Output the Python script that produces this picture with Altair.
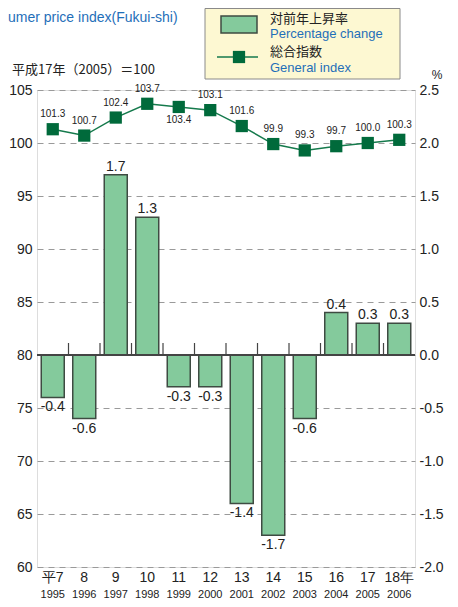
import altair as alt
import pandas as pd

years = ["1995", "1996", "1997", "1998", "1999", "2000", "2001", "2002", "2003", "2004", "2005", "2006"]
era_labels = ["平7", "8", "9", "10", "11", "12", "13", "14", "15", "16", "17", "18年"]
pct_change = [-0.4, -0.6, 1.7, 1.3, -0.3, -0.3, -1.4, -1.7, -0.6, 0.4, 0.3, 0.3]
general_index = [101.3, 100.7, 102.4, 103.7, 103.4, 103.1, 101.6, 99.9, 99.3, 99.7, 100.0, 100.3]
right_ticks = [-2.0, -1.5, -1.0, -0.5, 0.0, 0.5, 1.0, 1.5, 2.0, 2.5]

df = pd.DataFrame({"year": years, "era": era_labels, "pct": pct_change, "idx": general_index})

W, H = 378, 477
SANS = "Liberation Sans"
CJK = "Noto Sans CJK JP"
BLUE = "#1f6fb9"
BAR_FILL = "#84ca9c"
BAR_STROKE = "#3e4b42"
LINE = "#157a4c"
MARK = "#006a3b"

xenc = alt.X("year:N", axis=None, scale=alt.Scale(paddingInner=0.27, paddingOuter=0.135))
yscale = alt.Scale(domain=[-2.0, 2.5], nice=False, zero=False)

right_axis = alt.Axis(orient="right", values=right_ticks, title=None,
                      labelExpr="(datum.value < 0 ? '-' : '') + format(abs(datum.value), '.1f')",
                      ticks=False, domain=False, grid=False, labelFontSize=14,
                      labelFont=SANS, labelColor="#222", labelPadding=4)
left_axis = alt.Axis(orient="left", values=right_ticks, title=None, ticks=False, domain=False,
                     labelExpr="format(datum.value * 10 + 80, 'd')",
                     grid=True, gridDash=[6, 5], gridColor="#9a9a9a", gridWidth=1,
                     labelFontSize=14, labelFont=SANS, labelColor="#222", labelPadding=5)

base = alt.Chart(df).transform_calculate(
    iy="(datum.idx - 80) / 10",
    plab="(datum.pct < 0 ? '-' : '') + format(abs(datum.pct), '.1f')",
)

bars = base.mark_bar(fill=BAR_FILL, stroke=BAR_STROKE, strokeWidth=1.5).encode(
    x=xenc, y=alt.Y("pct:Q", scale=yscale, axis=right_axis), y2=alt.datum(0))
pos_lab = base.transform_filter("datum.pct > 0").mark_text(
    baseline="bottom", dy=-1, fontSize=14, font=SANS, color="#222").encode(
    x=xenc, y=alt.Y("pct:Q", scale=yscale, axis=None), text="plab:N")
neg_lab = base.transform_filter("datum.pct < 0").mark_text(
    baseline="top", dy=3, fontSize=14, font=SANS, color="#222").encode(
    x=xenc, y=alt.Y("pct:Q", scale=yscale, axis=None), text="plab:N")
baseline_rule = base.mark_rule(color="#444", strokeWidth=1.5).encode(
    x=alt.value(0), x2=alt.value(W), y=alt.datum(0, scale=yscale, axis=None))
seps = base.transform_filter("datum.year != '1995'").mark_rule(
    color="#444", strokeWidth=1.2, xOffset=-4.25).encode(
    x=alt.X("year:N", bandPosition=0, axis=None, scale=alt.Scale(paddingInner=0.27, paddingOuter=0.135)),
    y=alt.value(253), y2=alt.value(264))
era_text = base.mark_text(fontSize=14, font=SANS, color="#222", baseline="middle").encode(
    x=xenc, y=alt.value(H + 11), text="era:N")
year_text = base.mark_text(fontSize=11, font=SANS, color="#222", baseline="middle").encode(
    x=xenc, y=alt.value(H + 28), text="year:N")

line = base.mark_line(color=LINE, strokeWidth=1.5).encode(
    x=xenc, y=alt.Y("iy:Q", scale=yscale, axis=left_axis))
pts = base.mark_point(shape="square", size=150, filled=True, color=MARK, opacity=1).encode(
    x=xenc, y=alt.Y("iy:Q", scale=yscale, axis=None))
ilab_up = base.transform_filter("datum.year != '1999'").mark_text(
    dy=-15, fontSize=10, font=SANS, color="#222").encode(
    x=xenc, y=alt.Y("iy:Q", scale=yscale, axis=None), text=alt.Text("idx:Q", format=".1f"))
ilab_dn = base.transform_filter("datum.year == '1999'").mark_text(
    dy=13, fontSize=10, font=SANS, color="#222").encode(
    x=xenc, y=alt.Y("iy:Q", scale=yscale, axis=None), text=alt.Text("idx:Q", format=".1f"))

one = pd.DataFrame({"a": [0]})
def txt(s, x, y, size=13, color="#222", font=SANS, align="left"):
    return alt.Chart(one).mark_text(text=s, fontSize=size, color=color, font=font,
                                    align=align, baseline="middle").encode(
        x=alt.value(x), y=alt.value(y))

title = txt("umer price index(Fukui-shi)", -29, -72, size=14, color=BLUE)
base_note = txt("平成17年（2005）＝100", -25, -20, size=13, font=CJK)
pct_sign = txt("%", 400, -15, size=12, align="center")

leg_box = alt.Chart(one).mark_rect(fill="#fdf8d2", stroke="#8a8a8a", strokeWidth=1).encode(
    x=alt.value(168), x2=alt.value(363), y=alt.value(-81.5), y2=alt.value(-11))
leg_bar = alt.Chart(one).mark_rect(fill=BAR_FILL, stroke=BAR_STROKE, strokeWidth=1.5).encode(
    x=alt.value(184), x2=alt.value(220), y=alt.value(-74), y2=alt.value(-57))
leg_line = alt.Chart(one).mark_rule(color=LINE, strokeWidth=1.5).encode(
    x=alt.value(180), x2=alt.value(221), y=alt.value(-33))
leg_sq = alt.Chart(one).mark_point(shape="square", size=150, filled=True, color=MARK, opacity=1).encode(
    x=alt.value(202), y=alt.value(-33))
leg_t1 = txt("対前年上昇率", 233, -71, size=13, font=CJK)
leg_t2 = txt("Percentage change", 233, -56, size=13, color=BLUE)
leg_t3 = txt("総合指数", 233, -38, size=13, font=CJK)
leg_t4 = txt("General index", 233, -22, size=13, color=BLUE)

chart = alt.layer(
    bars, baseline_rule, seps, pos_lab, neg_lab, line, pts, ilab_up, ilab_dn,
    era_text, year_text, title, base_note, pct_sign,
    leg_box, leg_bar, leg_line, leg_sq, leg_t1, leg_t2, leg_t3, leg_t4,
).resolve_axis(y="independent").properties(
    width=W, height=H,
    autosize=alt.AutoSizeParams(type="none"),
    padding={"left": 29, "top": 82, "right": 35, "bottom": 32},
).configure_view(
    fill="#fef9d6", stroke="#505050", strokeWidth=1.5,
).configure(background="white")

chart.save("out.html", embed_options={"renderer": "svg", "actions": False})
